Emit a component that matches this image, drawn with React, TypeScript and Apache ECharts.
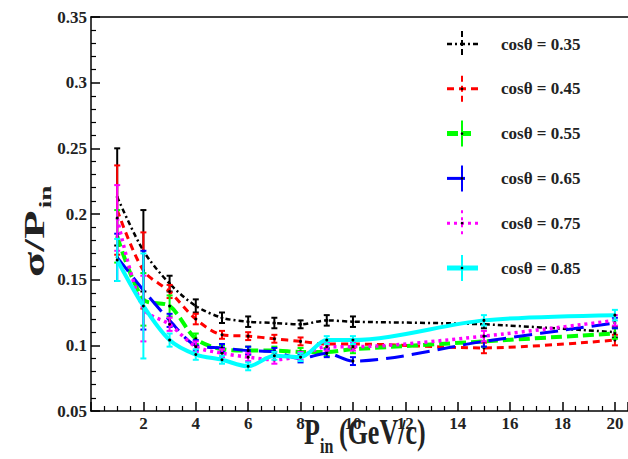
import React, { useEffect, useRef } from "react";
import * as echarts from "echarts";

const pin = [1, 2, 3, 4, 5, 6, 7, 8, 9, 10, 15, 20];
const cos35 = [0.213, 0.172, 0.147, 0.13, 0.121, 0.118, 0.117, 0.116, 0.119, 0.118, 0.116, 0.11];
const cos45 = [0.203, 0.157, 0.141, 0.12, 0.108, 0.107, 0.105, 0.103, 0.101, 0.101, 0.098, 0.104];
const cos55 = [0.183, 0.135, 0.13, 0.105, 0.097, 0.096, 0.096, 0.095, 0.095, 0.097, 0.103, 0.109];
const cos65 = [0.167, 0.142, 0.119, 0.1, 0.098, 0.096, 0.095, 0.09, 0.094, 0.088, 0.103, 0.117];
const cos75 = [0.197, 0.128, 0.116, 0.099, 0.094, 0.091, 0.089, 0.092, 0.099, 0.099, 0.107, 0.119];
const cos85 = [0.165, 0.13, 0.104, 0.093, 0.089, 0.084, 0.092, 0.091, 0.104, 0.104, 0.119, 0.123];

const err35 = [0.037, 0.031, 0.006, 0.005, 0.004, 0.004, 0.004, 0.003, 0.004, 0.004, 0.003, 0.004];
const err45 = [0.034, 0.029, 0.005, 0.004, 0.003, 0.003, 0.003, 0.003, 0.003, 0.003, 0.004, 0.004];
const err55 = [0.02, 0.02, 0.008, 0.004, 0.003, 0.003, 0.003, 0.003, 0.003, 0.003, 0.004, 0.004];
const err65 = [0.018, 0.03, 0.005, 0.004, 0.003, 0.003, 0.003, 0.003, 0.003, 0.003, 0.004, 0.004];
const err75 = [0.025, 0.025, 0.005, 0.004, 0.003, 0.003, 0.003, 0.003, 0.003, 0.003, 0.004, 0.004];
const err85 = [0.016, 0.04, 0.005, 0.004, 0.003, 0.003, 0.003, 0.003, 0.003, 0.003, 0.004, 0.004];

const legendLabels = ["cosθ = 0.35", "cosθ = 0.45", "cosθ = 0.55", "cosθ = 0.65", "cosθ = 0.75", "cosθ = 0.85"];

const SERIF = "'Liberation Serif', 'DejaVu Serif', serif";

type Sty = { color: string; width: number; dash: number[] | "solid"; legW: number; legLen: number; vDash: number[] | "solid" };
const styles: Sty[] = [
  { color: "#000000", width: 2.5, dash: [5, 3, 2, 3], legW: 2.5, legLen: 31, vDash: [6, 3] },
  { color: "#ff0000", width: 3, dash: [7, 5], legW: 3, legLen: 31, vDash: [6, 4] },
  { color: "#00ff00", width: 4, dash: [11, 5], legW: 5, legLen: 24, vDash: "solid" },
  { color: "#0000ff", width: 3, dash: [18, 8], legW: 3, legLen: 24, vDash: "solid" },
  { color: "#ff00ff", width: 3.5, dash: [3, 4], legW: 3, legLen: 31, vDash: [3, 4] },
  { color: "#00ffff", width: 4, dash: "solid", legW: 5, legLen: 31, vDash: "solid" },
];
const values = [cos35, cos45, cos55, cos65, cos75, cos85];
const errors = [err35, err45, err55, err65, err75, err85];

export default function App() {
  const ref = useRef<HTMLDivElement>(null);
  useEffect(() => {
    if (!ref.current) return;
    const chart = echarts.init(ref.current, undefined, { renderer: "svg" });

    const series: any[] = [];
    values.forEach((v, k) => {
      const st = styles[k];
      series.push({
        type: "line",
        name: legendLabels[k],
        data: pin.map((x, i) => [x, v[i]]),
        smooth: 0.3,
        symbol: "circle",
        symbolSize: 3,
        itemStyle: { color: "#000" },
        lineStyle: { color: st.color, width: st.width, type: st.dash },
        z: 2 + k,
      });
    });
    values.forEach((v, k) => {
      const st = styles[k];
      const e = errors[k];
      series.push({
        type: "custom",
        data: pin.map((x, i) => [x, v[i] - e[i], v[i] + e[i]]),
        encode: { x: 0, y: [1, 2] },
        z: 2 + k,
        renderItem: (params: any, api: any) => {
          const x = api.value(0);
          const p1 = api.coord([x, api.value(1)]);
          const p2 = api.coord([x, api.value(2)]);
          const s = { stroke: st.color, lineWidth: 2 };
          return {
            type: "group",
            children: [
              { type: "line", shape: { x1: p1[0], y1: p1[1], x2: p2[0], y2: p2[1] }, style: s },
              { type: "line", shape: { x1: p1[0] - 3, y1: p1[1], x2: p1[0] + 3, y2: p1[1] }, style: s },
              { type: "line", shape: { x1: p2[0] - 3, y1: p2[1], x2: p2[0] + 3, y2: p2[1] }, style: s },
            ],
          };
        },
      });
    });

    const graphics: any[] = [];
    styles.forEach((st, k) => {
      const yc = 44 + k * 44.8;
      graphics.push({
        type: "line",
        shape: { x1: 447, y1: yc, x2: 447 + st.legLen, y2: yc },
        style: { stroke: st.color, lineWidth: st.legW, lineDash: st.dash === "solid" ? null : st.dash },
      });
      graphics.push({
        type: "line",
        shape: { x1: 462, y1: yc - 13, x2: 462, y2: yc + 13 },
        style: { stroke: st.color, lineWidth: 2, lineDash: st.vDash === "solid" ? null : st.vDash },
      });
      graphics.push({ type: "circle", shape: { cx: 462, cy: yc, r: 1.3 }, style: { fill: "#000" } });
      graphics.push({
        type: "text",
        x: 501,
        y: yc,
        style: {
          text: legendLabels[k],
          fill: "#222",
          font: `bold 17px ${SERIF}`,
          verticalAlign: "middle",
          align: "left",
        },
      });
    });
    // x-axis title
    graphics.push({
      type: "group",
      x: 304,
      y: 450,
      scaleY: 1.35,
      children: [
        { type: "text", x: 0, y: 0, style: { text: "P", fill: "#222", font: `bold 26px ${SERIF}`, verticalAlign: "bottom", align: "left" } },
        { type: "text", x: 16, y: 5, style: { text: "in", fill: "#222", font: `bold 16px ${SERIF}`, verticalAlign: "bottom", align: "left" } },
        { type: "text", x: 35, y: 0, style: { text: "(GeV/c)", fill: "#222", font: `bold 26px ${SERIF}`, verticalAlign: "bottom", align: "left" } },
      ],
    });
    // y-axis title
    graphics.push({
      type: "group",
      x: 49,
      y: 277,
      rotation: Math.PI / 2,
      scaleX: 1.6,
      children: [
        { type: "text", x: 0, y: 0, style: { text: "σ/P", fill: "#222", font: `bold 29px ${SERIF}`, verticalAlign: "bottom", align: "left" } },
        { type: "text", x: 43, y: 5, style: { text: "in", fill: "#222", font: `bold 17px ${SERIF}`, verticalAlign: "bottom", align: "left" } },
      ],
    });

    const axisLine = { show: true, lineStyle: { color: "#000", width: 1.5 } };
    const labelStyle = { fontFamily: SERIF, fontWeight: "bold", fontSize: 17, color: "#222" };

    chart.setOption({
      animation: false,
      grid: { left: 91, right: 0, top: 17, bottom: 48, outerBoundsMode: "none" },
      xAxis: [
        {
          type: "value",
          min: 0,
          max: 20.5,
          interval: 2,
          axisLine,
          axisTick: { show: true, inside: true, length: 9, lineStyle: { color: "#000", width: 1.5 } },
          minorTick: { show: true, splitNumber: 4, length: 5, lineStyle: { color: "#000", width: 1.2 } },
          splitLine: { show: false },
          axisLabel: {
            ...labelStyle,
            margin: 4,
            formatter: (v: number) => (v > 0 && Math.abs(v % 2) < 1e-9 ? String(v) : ""),
          },
        },
        {
          type: "value",
          position: "top",
          min: 0,
          max: 20.5,
          interval: 2,
          axisLine,
          axisTick: { show: false },
          axisLabel: { show: false },
          splitLine: { show: false },
        },
      ],
      yAxis: {
        type: "value",
        min: 0.05,
        max: 0.35,
        interval: 0.05,
        axisLine,
        axisTick: { show: true, inside: true, length: 9, lineStyle: { color: "#000", width: 1.5 } },
        minorTick: { show: true, splitNumber: 5, length: 5, lineStyle: { color: "#000", width: 1.2 } },
        splitLine: { show: false },
        axisLabel: { ...labelStyle, margin: 4 },
      },
      series,
      graphic: graphics,
    });
    return () => chart.dispose();
  }, []);
  return <div ref={ref} style={{ position: "absolute", left: 0, top: 0, width: 628, height: 459 }} />;
}
